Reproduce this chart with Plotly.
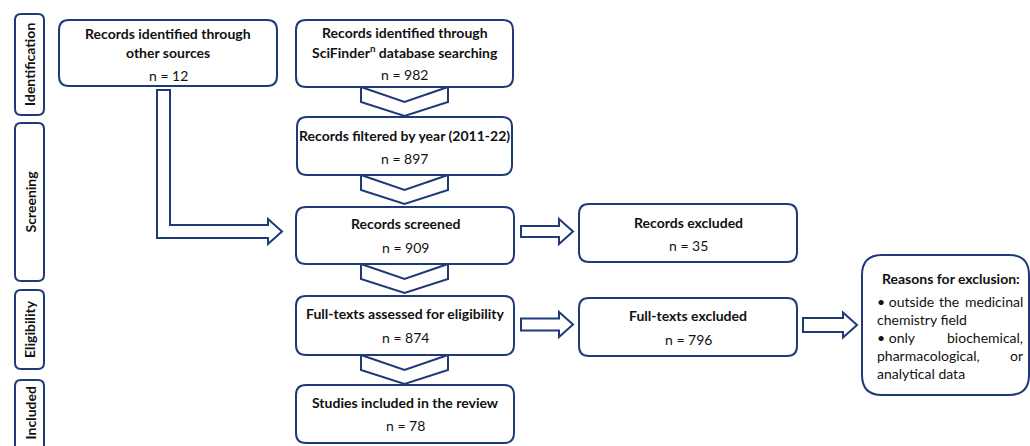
import plotly.graph_objects as go

# ---------------- data ----------------
stage_labels = ["Identification", "Screening", "Eligibility", "Included"]

box_titles = [
    ["Records identified through", "other sources"],
    ["Records identified through", "SciFinder<sup>n</sup> database searching"],
    ["Records filtered by year (2011-22)"],
    ["Records screened"],
    ["Records excluded"],
    ["Full-texts assessed for eligibility"],
    ["Full-texts excluded"],
    ["Studies included in the review"],
]
box_counts = [12, 982, 897, 909, 35, 874, 796, 78]

reasons_title = "Reasons for exclusion:"
reasons_lines = [
    ["• outside", "the", "medicinal"],
    ["chemistry field"],
    ["• only", "biochemical,"],
    ["pharmacological,", "or"],
    ["analytical data"],
]

# ---------------- layout geometry (pixel space) ----------------
W, H = 1030, 446
NAVY = "#1F3A78"
TXT = "#111111"
FONT = "Lato"

stage_rects = [(15, 14, 44, 115), (15, 123, 44, 281), (15, 290, 44, 369), (15, 380, 44, 478)]
box_rects = [
    (59, 20, 277, 86),
    (296, 20, 513, 87),
    (297, 117, 512, 175),
    (296, 207, 514, 264),
    (579, 204, 797, 262),
    (296, 296, 514, 355),
    (579, 298, 797, 356),
    (296, 385, 514, 443),
]
title_ys = [[33, 52], [32, 51], [135], [223], [222], [313], [315], [402]]
count_ys = [75, 74, 158, 247, 245, 337, 339, 425]
reasons_rect = (862, 255, 1029, 395)

chevrons = [(361, 448, 87), (361, 448, 175), (361, 448, 264), (361, 448, 355)]
h_arrows = [  # x0, head start, tip, yc, body half, head half
    (521, 559, 573, 231.5, 5.5, 12.5),
    (521, 559, 573, 324.5, 6, 12.5),
    (803, 843, 857, 325, 7, 12.5),
]


def rrect(x0, y0, x1, y1, r):
    return (f"M{x0+r},{y0} L{x1-r},{y0} Q{x1},{y0} {x1},{y0+r} "
            f"L{x1},{y1-r} Q{x1},{y1} {x1-r},{y1} L{x0+r},{y1} "
            f"Q{x0},{y1} {x0},{y1-r} L{x0},{y0+r} Q{x0},{y0} {x0+r},{y0} Z")


shapes = []


def add_path(path, width=2):
    shapes.append(dict(type="path", path=path, xref="x", yref="y",
                       line=dict(color=NAVY, width=width), fillcolor="white", layer="above"))


# chevrons
for x0, x1, yt in chevrons:
    xm = (x0 + x1) / 2
    add_path(f"M{x0},{yt} L{xm},{yt+15} L{x1},{yt} L{x1},{yt+15} L{xm},{yt+29} L{x0},{yt+15} Z")

# horizontal arrows
for x0, xh, xt, yc, bh, hh in h_arrows:
    add_path(f"M{x0},{yc-bh} L{xh},{yc-bh} L{xh},{yc-hh} L{xt},{yc} L{xh},{yc+hh} "
             f"L{xh},{yc+bh} L{x0},{yc+bh} Z")

# L-shaped arrow from other sources to records screened
add_path("M157,90 L170,90 L170,225 L268,225 L268,219 L282,231.5 L268,244 L268,238 L157,238 Z")

# boxes
for r in stage_rects:
    add_path(rrect(*r, 6))
for r in box_rects:
    add_path(rrect(*r, 10))
add_path(rrect(*reasons_rect, 20))

annotations = []


def txt(x, y, s, bold=False, size=14, anchor="center", angle=0):
    annotations.append(dict(x=x, y=y, xref="x", yref="y", text=f"<b>{s}</b>" if bold else s,
                            showarrow=False, xanchor=anchor, yanchor="middle", textangle=angle,
                            font=dict(family=FONT, size=size, color=TXT)))


for (x0, y0, x1, y1), lab in zip(stage_rects, stage_labels):
    yy = (y0 + y1) / 2 if lab != "Included" else 413
    txt((x0 + x1) / 2, yy, lab, bold=True, angle=-90)

for (x0, y0, x1, y1), lines, ys, n, ny in zip(box_rects, box_titles, title_ys, box_counts, count_ys):
    cx = (x0 + x1) / 2
    for line, y in zip(lines, ys):
        txt(cx, y, line, bold=True)
    txt(cx, ny, f"n = {n}")

# reasons box text
txt(951, 278, reasons_title, bold=True)
rl, rr = 875, 1025
for i, words in enumerate(reasons_lines):
    y = 301 + i * 18
    txt(rl, y, words[0], anchor="left")
    if len(words) > 1:
        txt(rr, y, words[-1], anchor="right")
        for j, w in enumerate(words[1:-1], start=1):
            txt(rl + (rr - rl) * j / (len(words) - 1) - 1, y, w)

fig = go.Figure()
fig.update_layout(
    width=W, height=H,
    margin=dict(l=0, r=0, t=0, b=0),
    paper_bgcolor="white", plot_bgcolor="white",
    xaxis=dict(range=[0, W], visible=False, fixedrange=True),
    yaxis=dict(range=[H, 0], visible=False, fixedrange=True),
    shapes=shapes, annotations=annotations, showlegend=False,
)
fig.write_html("out.html", config={"displayModeBar": False},
               post_script="document.body.style.margin='0';document.body.style.overflow='hidden';")
